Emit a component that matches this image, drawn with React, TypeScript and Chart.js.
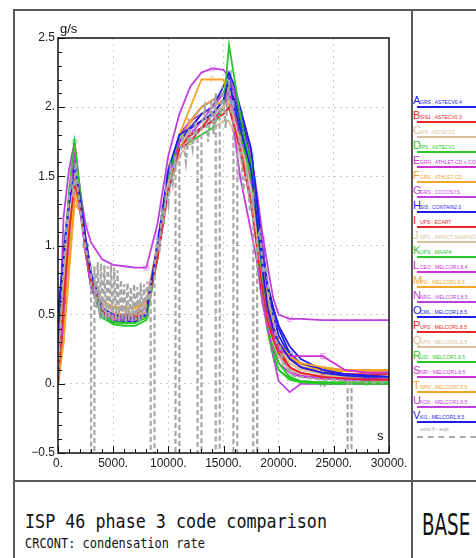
import React, { useEffect, useRef } from 'react';
import { Chart, registerables } from 'chart.js';
Chart.register(...registerables);

// ---- data ----
const time = [0, 500, 1000, 1500, 2000, 2500, 3000, 4000, 5000, 6000, 7000, 8000, 9000, 10000, 11000, 12000, 13000, 14000, 15000, 15500, 16000, 16500, 17000, 17500, 18000, 18500, 19000, 19500, 20000, 21000, 22000, 24000, 26000, 28000, 30000];

const seriesA = [0.45, 0.9, 1.3, 1.55, 1.35, 1.05, 0.8, 0.55, 0.5, 0.48, 0.47, 0.5, 1.0, 1.55, 1.8, 1.85, 1.9, 1.95, 2.05, 2.2, 2.0, 1.85, 1.7, 1.55, 1.2, 0.85, 0.55, 0.4, 0.3, 0.18, 0.12, 0.08, 0.06, 0.05, 0.05];
const seriesB = [0.0, 0.6, 1.1, 1.45, 1.3, 1.0, 0.75, 0.55, 0.5, 0.5, 0.5, 0.55, 0.9, 1.4, 1.7, 1.8, 1.85, 1.9, 1.95, 2.0, 1.85, 1.7, 1.5, 1.3, 1.0, 0.7, 0.45, 0.32, 0.22, 0.12, 0.08, 0.05, 0.04, 0.03, 0.03];
const seriesC = [0.1, 0.7, 1.2, 1.5, 1.3, 1.0, 0.8, 0.6, 0.52, 0.5, 0.5, 0.52, 0.95, 1.45, 1.7, 1.85, 1.9, 1.95, 2.0, 2.05, 1.9, 1.75, 1.6, 1.4, 1.05, 0.7, 0.45, 0.3, 0.2, 0.1, 0.07, 0.06, 0.05, 0.05, 0.05];
const seriesD = [0.05, 0.8, 1.4, 1.75, 1.4, 1.0, 0.75, 0.5, 0.45, 0.44, 0.44, 0.48, 0.95, 1.5, 1.8, 1.75, 1.8, 1.85, 2.0, 2.45, 2.2, 1.95, 1.75, 1.6, 1.2, 0.75, 0.45, 0.28, 0.15, 0.05, 0.02, 0.01, 0.01, 0.01, 0.01];
const seriesE = [0.2, 0.8, 1.3, 1.65, 1.4, 1.05, 0.8, 0.55, 0.5, 0.5, 0.5, 0.55, 1.0, 1.5, 1.75, 1.8, 1.85, 1.9, 2.0, 2.1, 1.9, 1.7, 1.5, 1.35, 1.05, 0.75, 0.5, 0.35, 0.25, 0.2, 0.2, 0.2, 0.1, 0.08, 0.08];
const seriesF = [0.0, 0.3, 0.9, 1.4, 1.3, 1.0, 0.8, 0.6, 0.55, 0.55, 0.55, 0.6, 1.0, 1.5, 1.8, 2.0, 2.2, 2.2, 2.2, 2.05, 1.85, 1.7, 1.55, 1.4, 1.1, 0.8, 0.55, 0.4, 0.3, 0.2, 0.15, 0.12, 0.1, 0.09, 0.09];
const seriesG = [0.0, 0.5, 1.0, 1.5, 1.25, 0.95, 0.7, 0.5, 0.47, 0.46, 0.46, 0.5, 0.9, 1.4, 1.7, 1.8, 1.9, 2.0, 2.1, 2.15, 1.8, 1.5, 1.3, 1.1, 0.9, 0.6, 0.4, 0.25, 0.15, 0.08, 0.05, 0.04, 0.03, 0.03, 0.03];
const seriesH = [0.3, 0.85, 1.25, 1.5, 1.3, 1.0, 0.75, 0.5, 0.45, 0.45, 0.45, 0.5, 0.95, 1.45, 1.75, 1.85, 1.95, 2.0, 2.15, 2.25, 2.15, 2.0, 1.85, 1.7, 1.35, 0.95, 0.7, 0.55, 0.42, 0.27, 0.18, 0.1, 0.07, 0.06, 0.05];
const seriesI = [0.0, 0.4, 0.95, 1.4, 1.3, 1.0, 0.75, 0.52, 0.48, 0.48, 0.48, 0.52, 0.95, 1.45, 1.7, 1.8, 1.85, 1.95, 2.0, 2.05, 1.9, 1.75, 1.55, 1.4, 1.1, 0.8, 0.55, 0.38, 0.25, 0.12, 0.08, 0.05, 0.04, 0.03, 0.03];
const seriesJ = [0.15, 0.7, 1.2, 1.45, 1.25, 1.0, 0.8, 0.6, 0.55, 0.52, 0.52, 0.55, 0.95, 1.4, 1.65, 1.75, 1.8, 1.85, 1.9, 1.9, 1.8, 1.65, 1.5, 1.35, 1.05, 0.75, 0.5, 0.35, 0.25, 0.15, 0.1, 0.07, 0.06, 0.05, 0.05];
const seriesK = [0.0, 0.55, 1.1, 1.6, 1.35, 0.95, 0.7, 0.48, 0.43, 0.42, 0.42, 0.46, 0.9, 1.45, 1.75, 1.8, 1.85, 1.9, 2.0, 2.1, 2.0, 1.85, 1.65, 1.5, 1.1, 0.7, 0.4, 0.22, 0.1, 0.03, 0.01, 0.0, 0.0, 0.0, 0.0];
const seriesL = [0.05, 0.6, 1.15, 1.55, 1.3, 1.0, 0.75, 0.52, 0.48, 0.47, 0.47, 0.5, 0.95, 1.5, 1.75, 1.85, 1.9, 1.95, 2.05, 2.1, 1.95, 1.8, 1.6, 1.45, 1.1, 0.8, 0.5, 0.32, 0.2, 0.1, 0.06, 0.04, 0.03, 0.03, 0.03];
const seriesM = [0.0, 0.35, 0.85, 1.35, 1.25, 1.0, 0.78, 0.58, 0.55, 0.55, 0.55, 0.58, 0.95, 1.45, 1.75, 1.9, 2.0, 2.05, 2.1, 2.1, 1.95, 1.8, 1.6, 1.45, 1.15, 0.85, 0.6, 0.42, 0.3, 0.18, 0.12, 0.1, 0.09, 0.09, 0.09];
const seriesN = [0.1, 0.7, 1.25, 1.6, 1.3, 0.95, 0.7, 0.5, 0.47, 0.46, 0.46, 0.5, 0.95, 1.5, 1.8, 1.9, 1.95, 2.0, 2.1, 2.15, 1.95, 1.8, 1.6, 1.4, 1.2, 1.05, 0.55, 0.2, 0.02, -0.06, 0.0, 0.0, 0.0, 0.0, 0.0];
const seriesO = [0.35, 0.8, 1.25, 1.5, 1.3, 1.0, 0.75, 0.52, 0.48, 0.47, 0.47, 0.5, 1.0, 1.5, 1.75, 1.85, 1.9, 1.95, 2.05, 2.15, 2.05, 1.9, 1.75, 1.6, 1.3, 1.0, 0.72, 0.55, 0.4, 0.22, 0.15, 0.1, 0.07, 0.06, 0.05];
const seriesP = [0.0, 0.45, 1.0, 1.45, 1.3, 1.0, 0.75, 0.52, 0.48, 0.48, 0.48, 0.52, 0.95, 1.45, 1.7, 1.75, 1.85, 1.9, 2.0, 2.05, 1.9, 1.75, 1.6, 1.45, 1.15, 0.85, 0.6, 0.42, 0.3, 0.18, 0.12, 0.08, 0.07, 0.07, 0.07];
const seriesQ = [0.1, 0.6, 1.1, 1.5, 1.3, 1.0, 0.78, 0.55, 0.5, 0.5, 0.5, 0.52, 0.95, 1.45, 1.7, 1.8, 1.85, 1.9, 1.95, 2.0, 1.85, 1.7, 1.55, 1.4, 1.1, 0.8, 0.55, 0.38, 0.27, 0.15, 0.1, 0.08, 0.07, 0.06, 0.06];
const seriesR = [0.0, 0.5, 1.05, 1.55, 1.35, 1.0, 0.72, 0.48, 0.44, 0.44, 0.44, 0.48, 0.9, 1.4, 1.75, 1.8, 1.85, 1.95, 2.05, 2.15, 2.0, 1.8, 1.6, 1.45, 1.05, 0.65, 0.38, 0.2, 0.1, 0.04, 0.02, 0.01, 0.01, 0.01, 0.01];
const seriesS = [0.0, 0.65, 1.2, 1.6, 1.3, 0.95, 0.7, 0.5, 0.46, 0.46, 0.46, 0.5, 0.95, 1.45, 1.75, 1.85, 1.9, 1.95, 2.0, 2.1, 1.95, 1.75, 1.55, 1.4, 1.05, 0.75, 0.48, 0.3, 0.2, 0.1, 0.06, 0.04, 0.03, 0.03, 0.03];
const seriesT = [0.0, 0.3, 0.8, 1.3, 1.25, 1.0, 0.8, 0.6, 0.56, 0.55, 0.55, 0.58, 0.95, 1.4, 1.7, 1.85, 1.95, 2.0, 2.05, 2.05, 1.9, 1.75, 1.55, 1.4, 1.1, 0.8, 0.55, 0.4, 0.3, 0.2, 0.14, 0.11, 0.1, 0.1, 0.1];
const seriesU = [0.0, 1.2, 1.55, 1.75, 1.4, 1.15, 1.02, 0.9, 0.86, 0.85, 0.84, 0.84, 1.15, 1.65, 1.95, 2.15, 2.25, 2.28, 2.27, 2.22, 2.1, 1.98, 1.85, 1.65, 1.4, 1.1, 0.85, 0.62, 0.5, 0.47, 0.47, 0.46, 0.46, 0.46, 0.46];
const seriesV = [0.5, 0.95, 1.35, 1.55, 1.35, 1.05, 0.8, 0.55, 0.5, 0.48, 0.48, 0.5, 1.0, 1.5, 1.8, 1.9, 2.0, 2.05, 2.1, 2.2, 2.1, 1.95, 1.8, 1.65, 1.35, 1.0, 0.7, 0.5, 0.35, 0.2, 0.12, 0.07, 0.05, 0.04, 0.03];

const exptTime = [0, 200, 400, 600, 800, 1000, 1200, 1400, 1600, 1800, 2000, 2200, 2400, 2600, 2800, 3000, 3000, 3300, 3300, 3450, 3600, 3750, 3900, 4050, 4200, 4350, 4500, 4650, 4800, 4950, 5100, 5250, 5400, 5550, 5700, 5850, 6000, 6150, 6300, 6450, 6600, 6750, 6900, 7050, 7200, 7350, 7500, 7650, 7800, 7950, 8100, 8250, 8400, 8400, 8750, 8750, 9000, 9200, 9400, 9600, 9800, 10000, 10200, 10400, 10650, 10650, 11000, 11000, 11300, 11600, 11900, 12200, 12450, 12650, 12650, 13000, 13000, 13300, 13600, 13900, 14100, 14300, 14300, 14650, 14650, 14900, 15200, 15500, 15700, 15900, 15900, 16250, 16250, 16500, 16800, 17100, 17400, 17700, 17700, 18050, 18050, 18300, 18600, 18900, 19200, 19500, 19800, 20100, 20400, 20800, 21300, 22000, 23000, 24000, 25000, 26250, 26250, 26600, 26600, 28000, 30000];
const exptRate = [0.0, 0.35, 0.7, 0.95, 1.15, 1.35, 1.5, 1.35, 1.6, 1.4, 1.3, 1.15, 1.05, 0.95, 0.9, 0.85, -0.7, -0.7, 0.85, 0.55, 0.88, 0.5, 0.87, 0.47, 0.86, 0.46, 0.85, 0.47, 0.86, 0.45, 0.84, 0.46, 0.82, 0.45, 0.75, 0.46, 0.72, 0.45, 0.73, 0.46, 0.7, 0.45, 0.72, 0.46, 0.7, 0.45, 0.73, 0.47, 0.72, 0.5, 0.74, 0.6, 0.75, -0.7, -0.7, 0.85, 1.05, 0.95, 1.25, 1.15, 1.4, 1.3, 1.55, 1.45, 1.65, -0.7, -0.7, 1.6, 1.8, 1.6, 1.85, 1.7, 1.9, 1.75, -0.7, -0.7, 1.85, 2.0, 1.75, 2.05, 1.8, 2.1, -0.7, -0.7, 1.9, 2.15, 1.85, 2.2, 1.95, 2.05, -0.7, -0.7, 1.65, 1.8, 1.4, 1.55, 1.25, 1.35, -0.7, -0.7, 1.05, 1.1, 0.8, 0.85, 0.55, 0.5, 0.3, 0.28, 0.15, 0.12, 0.06, 0.05, 0.04, 0.03, 0.03, 0.02, -0.7, -0.7, 0.02, 0.01, 0.01];

const seriesValues = [seriesA, seriesB, seriesC, seriesD, seriesE, seriesF, seriesG, seriesH, seriesI, seriesJ, seriesK, seriesL, seriesM, seriesN, seriesO, seriesP, seriesQ, seriesR, seriesS, seriesT, seriesU, seriesV];
const seriesLetters = ['A', 'B', 'C', 'D', 'E', 'F', 'G', 'H', 'I', 'J', 'K', 'L', 'M', 'N', 'O', 'P', 'Q', 'R', 'S', 'T', 'U', 'V'];
const seriesOwners = ['GRS', 'SIS1', 'IPS', 'IPS', 'GRN', 'GRS', 'GRS', 'SIS', 'UPS', 'NPS', 'UPS', 'CEO', 'PSI', 'NRG', 'CML', 'UPS', 'UPS', 'USI', 'NRI', 'NPN', 'KOK', 'KI1'];
const seriesCodes = ['ASTECV0.4', 'ASTECV0.3', 'ASTECV1', 'ASTECV1', 'ATHLET-CD + COCOSYS', 'ATHLET-CD', 'COCOSYS', 'CONTAIN2.0', 'ECART', 'IMPACT-SAMPSON', 'MAAP4', 'MELCOR1.8.4', 'MELCOR1.8.5', 'MELCOR1.8.5', 'MELCOR1.8.5', 'MELCOR1.8.5', 'MELCOR1.8.5', 'MELCOR1.8.5', 'MELCOR1.8.5', 'MELCOR1.8.5', 'MELCOR1.8.5', 'MELCOR1.8.5'];
const palette = ['#1e1ee6', '#e8262a', '#d9c29b', '#27c827', '#cf2fd6', '#f4a52a', '#c03fe0'];
const exptLabel = 'cond fl - expt';
const xTicks = [0, 5000, 10000, 15000, 20000, 25000, 30000];
const yTicks = [-0.5, 0, 0.5, 1, 1.5, 2, 2.5];

const FONT = '"Liberation Sans", Arial, sans-serif';

function letterImage(letter: string, color: string) {
  const c = document.createElement('canvas');
  c.width = 8;
  c.height = 10;
  const g = c.getContext('2d')!;
  g.globalAlpha = 0.7;
  g.font = '9px ' + FONT;
  g.fillStyle = color;
  g.textAlign = 'center';
  g.textBaseline = 'middle';
  g.fillText(letter, 4, 5.5);
  return c;
}

const framePlugin = {
  id: 'framePlugin',
  afterDraw(chart: any) {
    const { ctx, chartArea: a, scales } = chart;
    const x = scales.x;
    const y = scales.y;
    ctx.save();
    ctx.strokeStyle = '#111';
    ctx.lineWidth = 1;
    ctx.beginPath();
    for (let k = 0; k <= 30; k++) {
      const px = Math.round(x.getPixelForValue(k * 1000)) + 0.5;
      const len = k % 5 === 0 ? 7 : 4;
      ctx.moveTo(px, a.bottom);
      ctx.lineTo(px, a.bottom - len);
    }
    for (let k = 0; k <= 30; k++) {
      const py = Math.round(y.getPixelForValue(-0.5 + k * 0.1)) + 0.5;
      const len = k % 5 === 0 ? 7 : 4;
      ctx.moveTo(a.left, py);
      ctx.lineTo(a.left + len, py);
    }
    ctx.stroke();
    ctx.lineWidth = 1.5;
    ctx.strokeRect(a.left, a.top, a.right - a.left, a.bottom - a.top);
    ctx.fillStyle = '#111';
    ctx.font = '13px ' + FONT;
    ctx.textAlign = 'left';
    ctx.textBaseline = 'alphabetic';
    ctx.fillText('g/s', a.left + 2, a.top - 5);
    ctx.fillText('s', a.right - 12, a.bottom - 13);
    ctx.restore();
  },
};

export default function App() {
  const ref = useRef<HTMLCanvasElement>(null);

  useEffect(() => {
    const datasets: any[] = [];
    datasets.push({
      label: exptLabel,
      data: exptTime.map((t, i) => ({ x: t, y: exptRate[i] })),
      borderColor: '#a6a6a6',
      borderWidth: 2.2,
      borderDash: [5, 3],
      pointRadius: 0,
      fill: false,
      tension: 0,
    });
    seriesValues.forEach((vals, si) => {
      const color = palette[si % palette.length];
      const img = letterImage(seriesLetters[si], color);
      datasets.push({
        label: seriesLetters[si] + ' ' + seriesOwners[si] + ' ; ' + seriesCodes[si],
        data: time.map((t, i) => ({ x: t, y: vals[i] })),
        borderColor: color,
        backgroundColor: color,
        borderWidth: 1.8,
        pointStyle: img,
        pointRadius: (c: any) => ((c.dataIndex + si * 2) % 6 === 3 ? 4 : 0),
        pointHoverRadius: 0,
        fill: false,
        tension: 0,
      });
    });

    const chart = new Chart(ref.current!, {
      type: 'line',
      data: { datasets },
      options: {
        responsive: false,
        maintainAspectRatio: false,
        animation: false,
        devicePixelRatio: 1,
        events: [],
        layout: { padding: { top: 38, right: 23, left: 0, bottom: 0 } },
        plugins: { legend: { display: false }, tooltip: { enabled: false } },
        scales: {
          x: {
            type: 'linear',
            min: 0,
            max: 30000,
            afterBuildTicks: (s: any) => {
              s.ticks = xTicks.map((v) => ({ value: v }));
            },
            afterFit: (s: any) => {
              s.height = 27;
            },
            ticks: {
              callback: (v: any) => String(v) + '.',
              font: { size: 12, family: FONT },
              color: '#1a1a1a',
              padding: 3,
              maxRotation: 0,
              autoSkip: false,
            },
            grid: { color: '#cdcdcd', lineWidth: 1, drawTicks: false },
            border: { display: false, dash: [2, 4] },
          },
          y: {
            type: 'linear',
            min: -0.5,
            max: 2.5,
            afterBuildTicks: (s: any) => {
              s.ticks = yTicks.map((v) => ({ value: v }));
            },
            afterFit: (s: any) => {
              s.width = 58;
            },
            ticks: {
              callback: (v: any) => {
                const n = Number(v);
                let str = Number.isInteger(n) ? n.toFixed(0) + '.' : String(n);
                if (n < 0) str = '\u2212' + str.slice(1);
                return str;
              },
              font: { size: 12, family: FONT },
              color: '#1a1a1a',
              padding: 3,
              autoSkip: false,
            },
            grid: { color: '#cdcdcd', lineWidth: 1, drawTicks: false },
            border: { display: false, dash: [2, 4] },
          },
        },
      },
      plugins: [framePlugin],
    } as any);
    return () => chart.destroy();
  }, []);

  const line = (l: number, t: number, w: number, h: number) => (
    <div style={{ position: 'absolute', left: l, top: t, width: w, height: h, background: '#5a5a5a' }} />
  );

  return (
    <div
      style={{
        position: 'fixed',
        left: 0,
        top: 0,
        width: 476,
        height: 558,
        background: '#fff',
        overflow: 'hidden',
        fontFamily: FONT,
      }}
    >
      {line(13, 9, 463, 2)}
      {line(13, 9, 2, 549)}
      {line(411, 9, 2, 549)}
      {line(13, 480, 463, 2)}
      <canvas
        ref={ref}
        width={412}
        height={480}
        style={{ position: 'absolute', left: 0, top: 0, width: 412, height: 480 }}
      />
      {seriesLetters.map((letter, i) => {
        const color = palette[i % palette.length];
        const top = 95 + 15 * i;
        return (
          <React.Fragment key={letter}>
            <div style={{ position: 'absolute', left: 413, top, fontSize: 11, lineHeight: '11px', color }}>{letter}</div>
            <div
              style={{
                position: 'absolute',
                left: 420,
                top: top + 5,
                fontSize: 5,
                lineHeight: '5px',
                color,
                whiteSpace: 'nowrap',
              }}
            >
              {seriesOwners[i] + ' ; ' + seriesCodes[i]}
            </div>
            <div style={{ position: 'absolute', left: 417, top: top + 11, width: 70, height: 2, background: color }} />
          </React.Fragment>
        );
      })}
      <div style={{ position: 'absolute', left: 420, top: 427, fontSize: 5, lineHeight: '5px', color: '#999', whiteSpace: 'nowrap' }}>
        {exptLabel}
      </div>
      <div style={{ position: 'absolute', left: 417, top: 436, width: 70, height: 0, borderTop: '2px dashed #aaa' }} />
      <div
        style={{
          position: 'absolute',
          left: 25,
          top: 511,
          fontFamily: '"DejaVu Sans Mono", monospace',
          fontSize: 20,
          lineHeight: '20px',
          color: '#111',
          whiteSpace: 'nowrap',
          transform: 'scaleX(0.836)',
          transformOrigin: 'left top',
        }}
      >
        ISP 46 phase 3 code comparison
      </div>
      <div
        style={{
          position: 'absolute',
          left: 25,
          top: 535.5,
          fontFamily: '"DejaVu Sans Mono", monospace',
          fontSize: 14,
          lineHeight: '14px',
          color: '#111',
          whiteSpace: 'nowrap',
          transform: 'scaleX(0.854)',
          transformOrigin: 'left top',
        }}
      >
        CRCONT: condensation rate
      </div>
      <div
        style={{
          position: 'absolute',
          left: 422,
          top: 509.5,
          fontFamily: '"DejaVu Sans", sans-serif',
          fontSize: 30,
          lineHeight: '30px',
          color: '#111',
          whiteSpace: 'nowrap',
          transform: 'scaleX(0.61)',
          transformOrigin: 'left top',
        }}
      >
        BASE
      </div>
    </div>
  );
}
